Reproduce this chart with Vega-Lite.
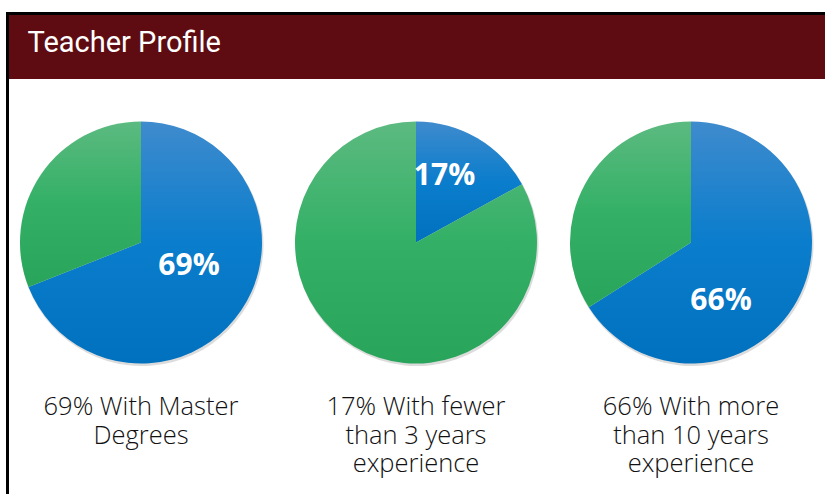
{
  "$schema": "https://vega.github.io/schema/vega-lite/v6.json",
  "width": 827,
  "height": 496,
  "autosize": {"type": "fit", "contains": "padding"},
  "padding": {"left": 4, "top": 10, "right": 0, "bottom": 0},
  "background": "white",
  "config": {"view": {"stroke": null}},
  "datasets": {
    "pies": [
      {"group": "A", "category": "Blue", "share": 0.69},
      {"group": "A", "category": "Green", "share": 0.31},
      {"group": "B", "category": "Blue", "share": 0.17},
      {"group": "B", "category": "Green", "share": 0.83},
      {"group": "C", "category": "Blue", "share": 0.66},
      {"group": "C", "category": "Green", "share": 0.34}
    ],
    "captions": [
      {"group": "A", "caption": "69% With Master\nDegrees"},
      {"group": "B", "caption": "17% With fewer\nthan 3 years\nexperience"},
      {"group": "C", "caption": "66% With more\nthan 10 years\nexperience"}
    ],
    "header": [{"title": "Teacher Profile"}]
  },
  "layer": [
    {
      "data": {"name": "header"},
      "mark": {"type": "rect", "fill": "#5e0c12"},
      "encoding": {"x": {"value": 3}, "x2": {"value": "width"}, "y": {"value": 3}, "y2": {"value": 67}}
    },
    {
      "data": {"name": "header"},
      "mark": {"type": "text", "align": "left", "baseline": "alphabetic", "font": "Roboto", "fontSize": 29, "color": "white"},
      "encoding": {"text": {"field": "title"}, "x": {"value": 21.5}, "y": {"value": 40}}
    },
    {
      "data": {"name": "header"},
      "mark": {"type": "rule", "color": "black", "strokeWidth": 3},
      "encoding": {"x": {"value": 1.5}, "y": {"value": 0}, "y2": {"value": "height"}}
    },
    {
      "data": {"name": "header"},
      "mark": {"type": "rule", "color": "black", "strokeWidth": 3},
      "encoding": {"y": {"value": 1.5}, "x": {"value": 0}, "x2": {"value": "width"}}
    },
    {
      "data": {"name": "pies"},
      "transform": [{"stack": "share", "groupby": ["group"], "sort": [{"field": "category"}], "as": ["t0", "t1"]}],
      "mark": {"type": "arc", "radius": 121.5, "fill": "#9a9a9a", "opacity": 0.35, "xOffset": 1, "yOffset": 2},
      "encoding": {
        "x": {"field": "group", "type": "nominal", "scale": {"type": "point", "range": [135, 685], "padding": 0}, "axis": null},
        "y": {"value": 230.5},
        "theta": {"field": "t0", "type": "quantitative", "scale": {"type": "linear", "domain": [0, 1], "range": [0, 6.283185307179586]}},
        "theta2": {"field": "t1"}
      }
    },
    {
      "data": {"name": "pies"},
      "transform": [
        {"stack": "share", "groupby": ["group"], "sort": [{"field": "category"}], "as": ["t0", "t1"]},
        {"filter": "datum.category === 'Blue'"}
      ],
      "mark": {
        "type": "arc",
        "radius": 121,
        "fill": {"gradient": "linear", "x1": 0, "y1": 0, "x2": 0, "y2": 1, "stops": [
          {"offset": 0, "color": "#3f8bcd"},
          {"offset": 0.5, "color": "#0a7dcc"},
          {"offset": 1, "color": "#0071be"}
        ]}
      },
      "encoding": {
        "x": {"field": "group", "type": "nominal", "axis": null},
        "y": {"value": 230.5},
        "theta": {"field": "t0", "type": "quantitative"},
        "theta2": {"field": "t1"}
      }
    },
    {
      "data": {"name": "pies"},
      "transform": [
        {"stack": "share", "groupby": ["group"], "sort": [{"field": "category"}], "as": ["t0", "t1"]},
        {"filter": "datum.category === 'Green'"}
      ],
      "mark": {
        "type": "arc",
        "radius": 121,
        "fill": {"gradient": "linear", "x1": 0, "y1": 0, "x2": 0, "y2": 1, "stops": [
          {"offset": 0, "color": "#5cba80"},
          {"offset": 0.5, "color": "#33b066"},
          {"offset": 1, "color": "#28a55a"}
        ]}
      },
      "encoding": {
        "x": {"field": "group", "type": "nominal", "axis": null},
        "y": {"value": 230.5},
        "theta": {"field": "t0", "type": "quantitative"},
        "theta2": {"field": "t1"}
      }
    },
    {
      "data": {"name": "pies"},
      "transform": [{"filter": "datum.group === 'A' && datum.category === 'Blue'"}],
      "mark": {"type": "text", "font": "Open Sans", "fontWeight": "bold", "fontSize": 30, "color": "white", "align": "center", "baseline": "alphabetic", "dx": 48},
      "encoding": {
        "x": {"field": "group", "type": "nominal", "axis": null},
        "y": {"value": 263},
        "text": {"field": "share", "type": "quantitative", "format": ".0%"}
      }
    },
    {
      "data": {"name": "pies"},
      "transform": [{"filter": "datum.group === 'B' && datum.category === 'Blue'"}],
      "mark": {"type": "text", "font": "Open Sans", "fontWeight": "bold", "fontSize": 30, "color": "white", "align": "center", "baseline": "alphabetic", "dx": 28.5},
      "encoding": {
        "x": {"field": "group", "type": "nominal", "axis": null},
        "y": {"value": 173},
        "text": {"field": "share", "type": "quantitative", "format": ".0%"}
      }
    },
    {
      "data": {"name": "pies"},
      "transform": [{"filter": "datum.group === 'C' && datum.category === 'Blue'"}],
      "mark": {"type": "text", "font": "Open Sans", "fontWeight": "bold", "fontSize": 30, "color": "white", "align": "center", "baseline": "alphabetic", "dx": 30},
      "encoding": {
        "x": {"field": "group", "type": "nominal", "axis": null},
        "y": {"value": 298},
        "text": {"field": "share", "type": "quantitative", "format": ".0%"}
      }
    },
    {
      "data": {"name": "captions"},
      "mark": {"type": "text", "font": "Open Sans", "fontWeight": 300, "fontSize": 25.5, "color": "#111111", "align": "center", "baseline": "alphabetic", "lineBreak": "\n", "lineHeight": 28.5},
      "encoding": {
        "x": {"field": "group", "type": "nominal", "axis": null},
        "y": {"value": 403},
        "text": {"field": "caption", "type": "nominal"}
      }
    }
  ]
}
